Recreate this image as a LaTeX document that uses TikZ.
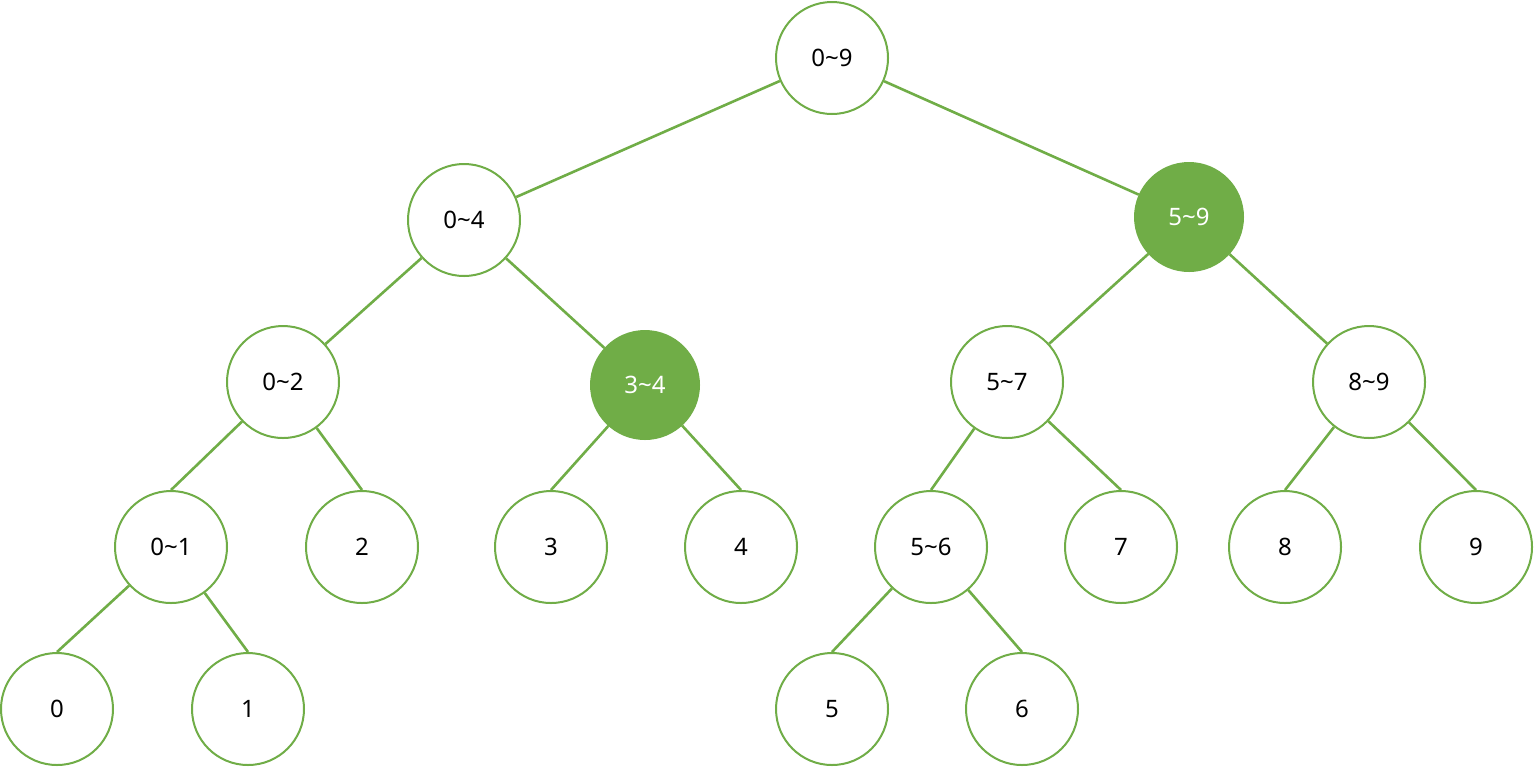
\documentclass[tikz,border=0pt]{standalone}
\usepackage{fontspec}
\setmainfont{Noto Sans}
\definecolor{gr}{HTML}{70AD47}
\begin{document}
\begin{tikzpicture}[x=0.5pt,y=-0.5pt,
  n/.style={circle,draw=gr,line width=1pt,fill=white,minimum size=56pt,inner sep=0pt,font=\fontsize{12}{14}\selectfont},
  f/.style={n,fill=gr,text=white,minimum size=54pt},
  e/.style={draw=gr,line width=1.3pt}]
\useasboundingbox (0,0) rectangle (1534,767);
\node[n] (r) at (832,58) {0\char`~9};
\node[n] (a) at (464,220) {0\char`~4};
\node[f] (b) at (1189,217) {5\char`~9};
\node[n] (a1) at (283,382) {0\char`~2};
\node[f] (a2) at (645,385) {3\char`~4};
\node[n] (b1) at (1007,382) {5\char`~7};
\node[n] (b2) at (1369,382) {8\char`~9};
\node[n] (c1) at (171,547) {0\char`~1};
\node[n] (c2) at (362,547) {2};
\node[n] (c3) at (551,547) {3};
\node[n] (c4) at (741,547) {4};
\node[n] (c5) at (931,547) {5\char`~6};
\node[n] (c6) at (1121,547) {7};
\node[n] (c7) at (1285,547) {8};
\node[n] (c8) at (1476,547) {9};
\node[n] (d1) at (57,709) {0};
\node[n] (d2) at (248,709) {1};
\node[n] (d3) at (832,709) {5};
\node[n] (d4) at (1022,709) {6};
\draw[e] (r) -- (a); \draw[e] (r) -- (b);
\draw[e] (a) -- (a1); \draw[e] (a) -- (a2);
\draw[e] (b) -- (b1); \draw[e] (b) -- (b2);
\draw[e] (a1) -- (c1.north); \draw[e] (a1) -- (c2.north);
\draw[e] (a2) -- (c3.north); \draw[e] (a2) -- (c4.north);
\draw[e] (b1) -- (c5.north); \draw[e] (b1) -- (c6.north);
\draw[e] (b2) -- (c7.north); \draw[e] (b2) -- (c8.north);
\draw[e] (c1) -- (d1.north); \draw[e] (c1) -- (d2.north);
\draw[e] (c5) -- (d3.north); \draw[e] (c5) -- (d4.north);
\end{tikzpicture}
\end{document}
